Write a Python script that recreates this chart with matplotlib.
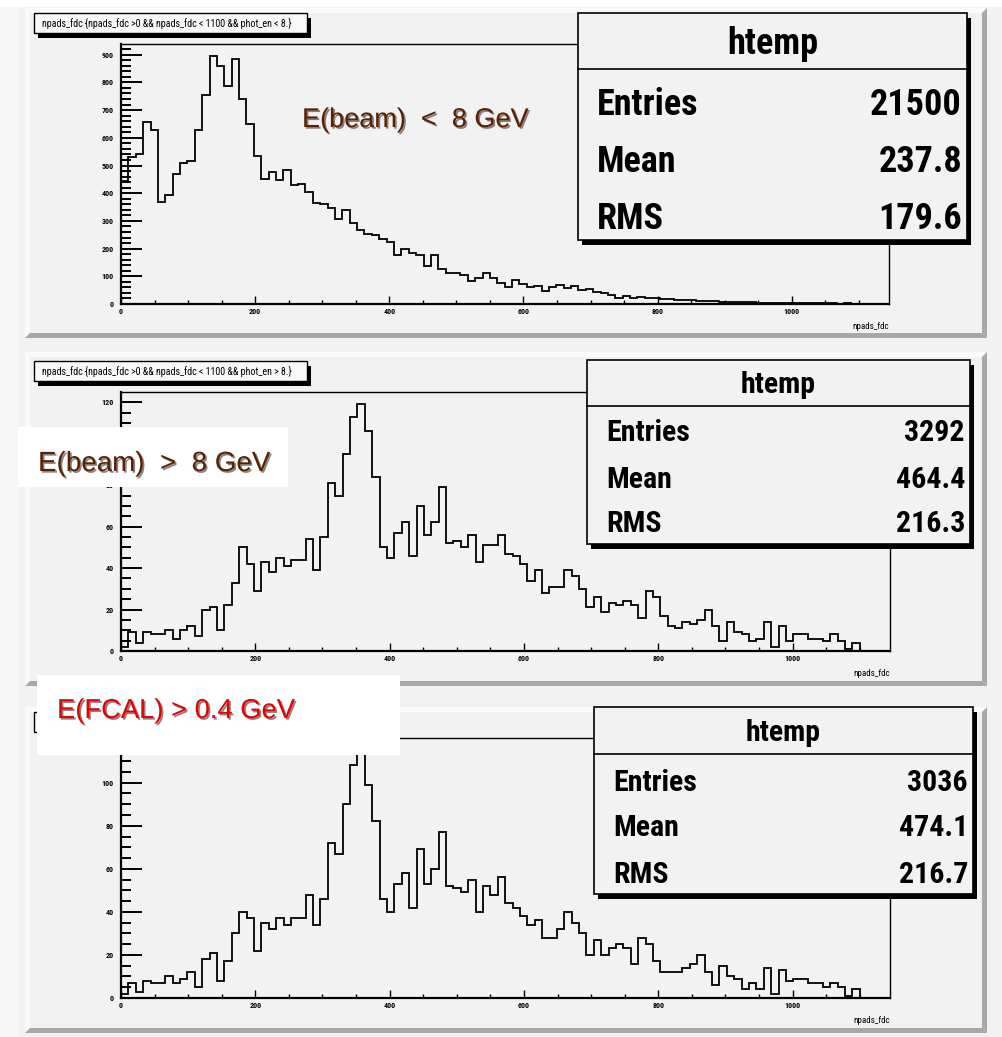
import matplotlib
matplotlib.use("Agg")
import matplotlib.pyplot as plt
import matplotlib.patheffects as pe
import numpy as np
from matplotlib.patches import Polygon, Rectangle
from matplotlib.ticker import MultipleLocator

# Three ROOT-style pads stacked vertically: npads_fdc for different cuts.
BIN_WIDTH = 11
N_BINS = 100

LOW_E_COUNTS = [
    445, 532, 541, 657, 627, 370, 394, 471, 508, 516,
    629, 755, 894, 858, 786, 886, 741, 651, 533, 451,
    475, 448, 484, 428, 434, 406, 366, 361, 346, 307,
    340, 292, 267, 253, 249, 234, 224, 177, 197, 183,
    177, 137, 177, 125, 111, 113, 105, 84, 93, 111,
    95, 75, 62, 87, 71, 62, 65, 47, 62, 68,
    57, 65, 50, 53, 44, 39, 32, 21, 29, 21,
    25, 22, 20, 19, 17, 16, 14, 15, 12, 11,
    10, 9, 8, 7, 8, 6, 5, 5, 4, 4,
    3, 4, 3, 2, 3, 2, 2, 1, 2, 1,
]
HIGH_E_COUNTS = [
    2, 9, 4, 9, 8, 8, 10, 6, 10, 12,
    7, 20, 21, 10, 22, 33, 50, 42, 29, 43,
    38, 45, 41, 44, 44, 54, 39, 55, 81, 75,
    95, 113, 119, 106, 84, 50, 45, 57, 62, 46,
    70, 56, 62, 79, 52, 53, 50, 56, 43, 51,
    51, 56, 47, 46, 42, 34, 39, 28, 31, 31,
    39, 36, 30, 21, 26, 19, 23, 22, 24, 22,
    16, 29, 26, 17, 12, 11, 14, 13, 15, 20,
    12, 5, 14, 9, 8, 5, 6, 14, 2, 12,
    5, 8, 8, 6, 6, 5, 8, 5, 1, 4,
]
FCAL_COUNTS = [
    2, 7, 3, 8, 7, 7, 10, 7, 9, 12,
    5, 18, 21, 8, 17, 30, 40, 37, 22, 35,
    32, 37, 34, 37, 37, 48, 34, 46, 72, 67,
    90, 108, 115, 99, 82, 46, 40, 53, 58, 42,
    69, 53, 60, 77, 52, 51, 49, 55, 40, 52,
    48, 56, 44, 42, 38, 34, 36, 28, 28, 32,
    40, 35, 30, 20, 27, 20, 23, 25, 23, 16,
    28, 25, 17, 12, 12, 12, 14, 16, 20, 12,
    6, 15, 10, 9, 4, 7, 4, 14, 2, 13,
    8, 9, 9, 7, 7, 5, 7, 5, 1, 4,
]

TITLES = [
    "npads_fdc {npads_fdc >0 && npads_fdc < 1100 && phot_en < 8.}",
    "npads_fdc {npads_fdc >0 && npads_fdc < 1100 && phot_en > 8.}",
    None,  # hidden under the white label box in the screenshot
]
STAT_NAMES = ["Entries", "Mean", "RMS"]
STAT_VALUES = [
    ["21500", "237.8", "179.6"],
    ["3292", "464.4", "216.3"],
    ["3036", "474.1", "216.7"],
]
LABELS = ["E(beam)  <  8 GeV", "E(beam)  >  8 GeV", "E(FCAL) > 0.4 GeV"]
LABEL_COLORS = ["#5b2000", "#5b2000", "#e80000"]
Y_MAJOR = [100, 20, 20]
Y_MINOR = [20, 5, 5]

W, H = 1002, 1037
PAD_COLOR = "#f2f2f2"
NARROW = ["Roboto Condensed", "Liberation Sans", "DejaVu Sans"]
SANS = ["Liberation Sans", "DejaVu Sans"]

# pixel layout of the screenshot (x0, y0, x1, y1)
PADS = [(25, 8, 987, 338), (25, 352, 987, 686), (25, 707, 987, 1033)]
FRAMES = [(121, 44, 889, 304), (121, 392, 890, 651), (121, 738, 890, 998)]
TITLE_BOXES = [(34, 13, 307, 33), (34, 361, 307, 381), (34, 712, 307, 732)]
STAT_BOXES = [(578, 13, 967, 240), (587, 360, 970, 544), (594, 707, 973, 894)]
STAT_HEADERS = [69, 406, 754]
STAT_TITLE_BASE = [53.5, 392.7, 741.2]
STAT_ROW_BASE = [[115.3, 171.8, 228.8], [440.6, 488, 531.6], [790.6, 835.6, 882.6]]
STAT_LEFT = [597, 606, 613]
STAT_FS = [(26, 26), (21.5, 21.5), (21.5, 21.5)]
WHITE_BOXES = [None, (18, 427, 288, 487), (37, 675, 400, 755)]
LABEL_POS = [(302, 127, 19.5), (38, 471, 20), (57, 718, 19.7)]


def frac(x0, y0, x1, y1):
    return [x0 / W, 1 - y1 / H, (x1 - x0) / W, (y1 - y0) / H]


def draw_pad(ax, x0, y0, x1, y1, b=5):
    ax.add_patch(Rectangle((x0, y0), x1 - x0, y1 - y0, fc=PAD_COLOR, ec="none"))
    light, dark = "#fbfbfb", "#a8a8a8"
    ax.add_patch(Polygon([(x0, y0), (x1, y0), (x1 - b, y0 + b), (x0 + b, y0 + b)], fc=light, ec="none"))
    ax.add_patch(Polygon([(x0, y0), (x0 + b, y0 + b), (x0 + b, y1 - b), (x0, y1)], fc=light, ec="none"))
    ax.add_patch(Polygon([(x0, y1), (x1, y1), (x1 - b, y1 - b), (x0 + b, y1 - b)], fc=dark, ec="none"))
    ax.add_patch(Polygon([(x1, y0), (x1, y1), (x1 - b, y1 - b), (x1 - b, y0 + b)], fc=dark, ec="none"))


def shadow_box(ax, x0, y0, x1, y1, fc, dx=4, dy=5, lw=1.0, z=1):
    ax.add_patch(Rectangle((x0 + dx, y0 + dy), x1 - x0, y1 - y0, fc="black", ec="none", zorder=z))
    ax.add_patch(Rectangle((x0, y0), x1 - x0, y1 - y0, fc=fc, ec="black", lw=lw, zorder=z))


fig = plt.figure(figsize=(W / 100, H / 100), dpi=100, facecolor=PAD_COLOR)

bg = fig.add_axes([0, 0, 1, 1], zorder=0)
bg.set_xlim(0, W)
bg.set_ylim(H, 0)
bg.axis("off")
bg.add_patch(Rectangle((0, 0), W, 7, fc="white", ec="none"))
bg.add_patch(Rectangle((0, 7), 19, H, fc="#f7f7f7", ec="none"))
for pad in PADS:
    draw_pad(bg, *pad)

edges = np.arange(N_BINS + 1) * BIN_WIDTH
all_counts = [LOW_E_COUNTS, HIGH_E_COUNTS, FCAL_COUNTS]

for i, counts in enumerate(all_counts):
    x0, y0, x1, y1 = FRAMES[i]
    ax = fig.add_axes(frac(x0, y0, x1, y1), zorder=1)
    ax.set_facecolor(PAD_COLOR)
    ax.stairs(counts, edges, color="black", lw=1.3, baseline=0)
    ax.set_xlim(0, 1145)
    ax.set_ylim(0, max(counts) * 1.05)
    ax.xaxis.set_major_locator(MultipleLocator(200))
    ax.xaxis.set_minor_locator(MultipleLocator(50))
    ax.yaxis.set_major_locator(MultipleLocator(Y_MAJOR[i]))
    ax.yaxis.set_minor_locator(MultipleLocator(Y_MINOR[i]))
    ax.tick_params(axis="y", which="major", direction="in", length=15, width=1.4, pad=5.5)
    ax.tick_params(axis="y", which="minor", direction="in", length=7.5, width=1.4)
    ax.tick_params(axis="x", which="major", direction="in", length=6, width=1.0, pad=3)
    ax.tick_params(axis="x", which="minor", direction="in", length=3, width=1.0)
    for lab in ax.get_xticklabels() + ax.get_yticklabels():
        lab.set_fontfamily(NARROW)
        lab.set_fontsize(5.8)
        lab.set_fontweight("bold")
    for side in ["left", "bottom"]:
        ax.spines[side].set_linewidth(1.6)
    for side in ["top", "right"]:
        ax.spines[side].set_linewidth(1.0)
    ax.set_xlabel("npads_fdc", family=NARROW, fontsize=6.5, ha="right")
    ax.xaxis.set_label_coords(1.0, -18 / (y1 - y0))

ov = fig.add_axes([0, 0, 1, 1], zorder=5)
ov.set_xlim(0, W)
ov.set_ylim(H, 0)
ov.axis("off")
ov.patch.set_alpha(0)

for i in range(3):
    tx0, ty0, tx1, ty1 = TITLE_BOXES[i]
    shadow_box(ov, tx0, ty0, tx1, ty1, fc="#f8f8f8", dx=4, dy=5)
    if TITLES[i]:
        ov.text(tx0 + 8, (ty0 + ty1) / 2, TITLES[i], family=NARROW, fontsize=7.2,
                va="center", ha="left", zorder=2)

    sx0, sy0, sx1, sy1 = STAT_BOXES[i]
    shadow_box(ov, sx0, sy0, sx1, sy1, fc=PAD_COLOR, dx=4, dy=5, lw=1.2, z=3)
    ov.plot([sx0, sx1], [STAT_HEADERS[i]] * 2, color="black", lw=1.2, zorder=3.1)
    fs_t, fs_r = STAT_FS[i]
    ov.text((sx0 + sx1) / 2, STAT_TITLE_BASE[i], "htemp", family=NARROW, fontsize=fs_t,
            weight="bold", ha="center", va="baseline", zorder=3.2)
    for name, val, yb in zip(STAT_NAMES, STAT_VALUES[i], STAT_ROW_BASE[i]):
        ov.text(STAT_LEFT[i], yb, name, family=NARROW, fontsize=fs_r, weight="bold",
                ha="left", va="baseline", zorder=3.2)
        ov.text(sx1 - 5, yb, val, family=NARROW, fontsize=fs_r, weight="bold",
                ha="right", va="baseline", zorder=3.2)

    if WHITE_BOXES[i] is not None:
        wx0, wy0, wx1, wy1 = WHITE_BOXES[i]
        ov.add_patch(Rectangle((wx0, wy0), wx1 - wx0, wy1 - wy0, fc="white", ec="none", zorder=4))

    lx, ly, lfs = LABEL_POS[i]
    ov.text(lx, ly, LABELS[i], family=SANS, fontsize=lfs, color=LABEL_COLORS[i],
            ha="left", va="baseline", zorder=5,
            path_effects=[pe.withSimplePatchShadow(offset=(1.2, -1.2), shadow_rgbFace="#222222", alpha=0.55)])

fig.savefig("out.png", dpi=100, facecolor=fig.get_facecolor())
